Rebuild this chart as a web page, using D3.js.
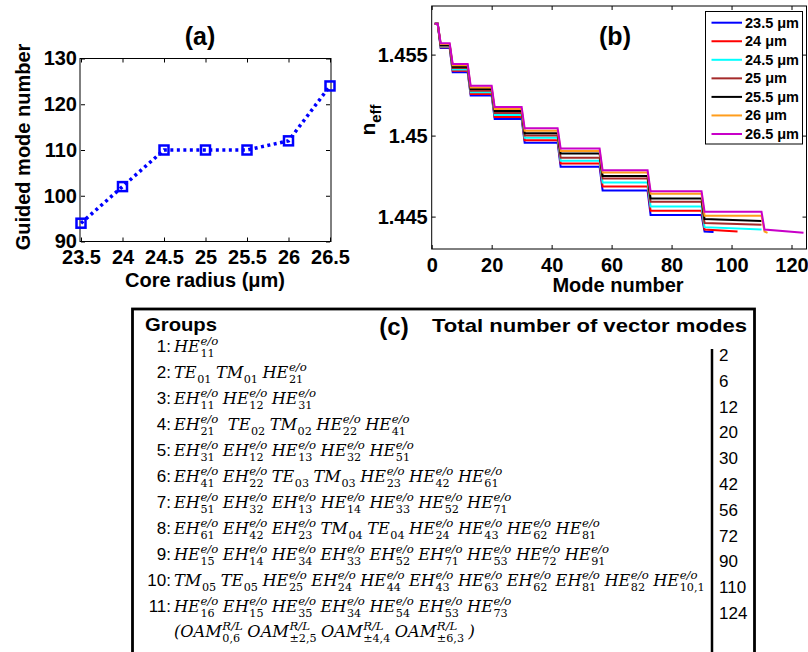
<!DOCTYPE html>
<html lang="en">
<head>
<meta charset="UTF-8" />
<title>Guided modes vs core radius</title>
<script src="https://d3js.org/d3.v7.min.js"></script>
<style>
  body { margin: 0; background: #fff; }
  svg { font-family: "Liberation Sans", Arial, sans-serif; }
  .bold { font-weight: bold; }
  .axis text { font-family: "Liberation Sans", Arial, sans-serif; font-weight: bold; font-size: 20px; fill: #000; }
  .axis line { stroke: #000; }
  .axis path { display: none; }
  .m { font-family: "DejaVu Serif", serif; font-style: italic; font-size: 16.2px; }
  .ms { font-family: "DejaVu Serif", serif; font-size: 11.2px; }
  .msi { font-family: "DejaVu Serif", serif; font-style: italic; font-size: 11.7px; }
</style>
</head>
<body>
<svg id="fig" width="808" height="652"></svg>
<script>
// ---- (a) guided mode number vs core radius
var coreRadius = [23.5, 24, 24.5, 25, 25.5, 26, 26.5];
var guidedModes = [94, 102, 110, 110, 110, 112, 124];

// ---- (b) n_eff of each mode group (one level per group), per core radius
var groupEnds = [2, 6, 12, 20, 30, 42, 56, 72, 90, 110, 124];
var radiusLabels = ["23.5", "24", "24.5", "25", "25.5", "26", "26.5"];
var lineColors = ["#0000ff", "#ff0000", "#00ffff", "#a52a2a", "#000000", "#ff9d1c", "#c800c8"];
var neff235 = [1.4569, 1.45540, 1.45391, 1.45247, 1.45103, 1.44956, 1.44807, 1.44661, 1.44510, 1.44408];
var neff24  = [1.4569, 1.45545, 1.45400, 1.45257, 1.45115, 1.44971, 1.44828, 1.44686, 1.44536, 1.44420];
var neff245 = [1.4569, 1.45550, 1.45408, 1.45267, 1.45127, 1.44986, 1.44844, 1.44710, 1.44563, 1.44435];
var neff25  = [1.4569, 1.45555, 1.45417, 1.45277, 1.45140, 1.45000, 1.44864, 1.44735, 1.44591, 1.44461];
var neff255 = [1.4569, 1.45560, 1.45425, 1.45287, 1.45152, 1.45015, 1.44889, 1.44751, 1.44612, 1.44485];
var neff26  = [1.4569, 1.45565, 1.45434, 1.45297, 1.45164, 1.45030, 1.44905, 1.44772, 1.44641, 1.44506, 1.44408];
var neff265 = [1.4569, 1.45570, 1.45442, 1.45307, 1.45176, 1.45045, 1.44921, 1.44786, 1.44657, 1.44530, 1.44420];
var neffLast = [1.44405, 1.44408, 1.44420, 1.44449, 1.44473, 1.44400, 1.44400]; // value at the last mode
var neffLevels = [neff235, neff24, neff245, neff25, neff255, neff26, neff265];

// ---- (c) table: "base|sub|sup" terms per group
var groupRows = [
  ["HE|11|e/o"],
  ["TE|01|", "TM|01|", "HE|21|e/o"],
  ["EH|11|e/o", "HE|12|e/o", "HE|31|e/o"],
  ["EH|21|e/o", " ||", "TE|02|", "TM|02|", "HE|22|e/o", "HE|41|e/o"],
  ["EH|31|e/o", "EH|12|e/o", "HE|13|e/o", "HE|32|e/o", "HE|51|e/o"],
  ["EH|41|e/o", "EH|22|e/o", "TE|03|", "TM|03|", "HE|23|e/o", "HE|42|e/o", "HE|61|e/o"],
  ["EH|51|e/o", "EH|32|e/o", "EH|13|e/o", "HE|14|e/o", "HE|33|e/o", "HE|52|e/o", "HE|71|e/o"],
  ["EH|61|e/o", "EH|42|e/o", "EH|23|e/o", "TM|04|", "TE|04|", "HE|24|e/o", "HE|43|e/o", "HE|62|e/o", "HE|81|e/o"],
  ["HE|15|e/o", "EH|14|e/o", "HE|34|e/o", "EH|33|e/o", "EH|52|e/o", "EH|71|e/o", "HE|53|e/o", "HE|72|e/o", "HE|91|e/o"],
  ["TM|05|", "TE|05|", "HE|25|e/o", "EH|24|e/o", "HE|44|e/o", "EH|43|e/o", "HE|63|e/o", "EH|62|e/o", "EH|81|e/o", "HE|82|e/o", "HE|10,1|e/o"],
  ["HE|16|e/o", "EH|15|e/o", "HE|35|e/o", "EH|34|e/o", "HE|54|e/o", "EH|53|e/o", "HE|73|e/o"]
];
var oamRow = ["(OAM|0,6|R/L", "OAM|\u00b12,5|R/L", "OAM|\u00b14,4|R/L", "OAM|\u00b16,3|R/L", ")||"];
var modeTotals = [2, 6, 12, 20, 30, 42, 56, 72, 90, 110, 124];

var svg = d3.select("#fig");

// frame with inward ticks on all four sides
function framedAxes(g, x, y, xTicks, yTicks, xFmt, yFmt, xPad, yPad) {
  var x0 = x.range()[0], x1 = x.range()[1], y0 = y.range()[0], y1 = y.range()[1];
  g.append("g").attr("class", "axis").attr("transform", "translate(0," + y0 + ")")
    .call(d3.axisBottom(x).tickValues(xTicks).tickSize(-4).tickPadding(xPad).tickFormat(xFmt));
  g.append("g").attr("class", "axis").attr("transform", "translate(0," + y1 + ")")
    .call(d3.axisTop(x).tickValues(xTicks).tickSize(-4).tickFormat(""));
  g.append("g").attr("class", "axis").attr("transform", "translate(" + x0 + ",0)")
    .call(d3.axisLeft(y).tickValues(yTicks).tickSize(-4).tickPadding(yPad).tickFormat(yFmt));
  g.append("g").attr("class", "axis").attr("transform", "translate(" + x1 + ",0)")
    .call(d3.axisRight(y).tickValues(yTicks).tickSize(-4).tickFormat(""));
  g.append("rect").attr("x", x0).attr("y", y1).attr("width", x1 - x0).attr("height", y0 - y1)
    .attr("fill", "none").attr("stroke", "#000").attr("stroke-width", 1);
}

// ================= (a)
var ga = svg.append("g");
var xa = d3.scaleLinear().domain([23.5, 26.5]).range([81, 330]);
var ya = d3.scaleLinear().domain([90, 130]).range([241.5, 58.5]);
framedAxes(ga, xa, ya, coreRadius, [90, 100, 110, 120, 130], function (d) { return d; }, d3.format("d"), 8, 4);
ga.select("rect").attr("x", 80).attr("width", 251);

ga.append("path")
  .datum(coreRadius.map(function (r, i) { return [r, guidedModes[i]]; }))
  .attr("fill", "none").attr("stroke", "#0000ff").attr("stroke-width", 3.5)
  .attr("stroke-dasharray", "3,3.5")
  .attr("d", d3.line().x(function (d) { return xa(d[0]); }).y(function (d) { return ya(d[1]); }));
ga.selectAll(".mk").data(coreRadius).enter().append("rect")
  .attr("x", function (r) { return xa(r) - 4.5; })
  .attr("y", function (r, i) { return ya(guidedModes[i]) - 4.5; })
  .attr("width", 9).attr("height", 9)
  .attr("fill", "none").attr("stroke", "#0000ff").attr("stroke-width", 2.5);

ga.append("text").attr("class", "bold").attr("x", 200).attr("y", 45).attr("text-anchor", "middle")
  .style("font-size", "25px").text("(a)");
ga.append("text").attr("class", "bold").attr("x", 205).attr("y", 287).attr("text-anchor", "middle")
  .style("font-size", "20px").text("Core radius (\u03bcm)");
ga.append("text").attr("class", "bold").attr("transform", "translate(30,147) rotate(-90)")
  .attr("text-anchor", "middle").style("font-size", "20px").text("Guided mode number");

// ================= (b)
var gb = svg.append("g");
var xb = d3.scaleLinear().domain([0, 125]).range([431.7, 806.5]);
var yb = d3.scaleLinear().domain([1.443, 1.458]).range([249, 6]);
framedAxes(gb, xb, yb, [0, 20, 40, 60, 80, 100, 120], [1.445, 1.45, 1.455], d3.format("d"), function (d) { return d3.format(".4~f")(d); }, 9, 4);

function stepPoints(levels, nModes, last) {
  var pts = [], start = 1;
  groupEnds.forEach(function (end, g) {
    if (start > nModes) return;
    var stop = Math.min(end, nModes);
    pts.push([start, levels[g]]);
    pts.push([stop, stop === nModes ? last : levels[g]]);
    start = end + 1;
  });
  return pts;
}
var lineB = d3.line().x(function (d) { return xb(d[0]); }).y(function (d) { return yb(d[1]); });
neffLevels.forEach(function (lv, i) {
  gb.append("path").datum(stepPoints(lv, guidedModes[i], neffLast[i]))
    .attr("fill", "none").attr("stroke", lineColors[i]).attr("stroke-width", 2).attr("d", lineB);
});

gb.append("text").attr("class", "bold").attr("x", 615).attr("y", 45).attr("text-anchor", "middle")
  .style("font-size", "25px").text("(b)");
gb.append("text").attr("class", "bold").attr("x", 618).attr("y", 292).attr("text-anchor", "middle")
  .style("font-size", "20px").text("Mode number");
var nl = gb.append("text").attr("class", "bold").attr("transform", "translate(375,120) rotate(-90)")
  .attr("text-anchor", "middle").style("font-size", "21px");
nl.append("tspan").text("n");
nl.append("tspan").attr("dy", 6).style("font-size", "15px").text("eff");

// legend
var lg = gb.append("g");
lg.append("rect").attr("x", 705.5).attr("y", 11.5).attr("width", 97).attr("height", 132.5)
  .attr("fill", "#fff").attr("stroke", "#000").attr("stroke-width", 1);
radiusLabels.forEach(function (r, i) {
  var cy = 22.7 + i * 18.55;
  lg.append("line").attr("x1", 711.5).attr("x2", 742).attr("y1", cy).attr("y2", cy)
    .attr("stroke", lineColors[i]).attr("stroke-width", 2);
  lg.append("text").attr("class", "bold").attr("x", 745).attr("y", cy + 5).style("font-size", "14.5px")
    .text(r + " \u03bcm");
});

// ================= (c) table
var gc = svg.append("g");
gc.append("rect").attr("x", 132.5).attr("y", 309).attr("width", 622).attr("height", 380)
  .attr("fill", "none").attr("stroke", "#000").attr("stroke-width", 2.8);
gc.append("line").attr("x1", 712).attr("x2", 712).attr("y1", 349).attr("y2", 660)
  .attr("stroke", "#000").attr("stroke-width", 2.5);

gc.append("text").attr("class", "bold").attr("x", 145).attr("y", 331).style("font-size", "19px")
  .attr("textLength", 72).attr("lengthAdjust", "spacingAndGlyphs").text("Groups");
gc.append("text").attr("class", "bold").attr("x", 394).attr("y", 335).attr("text-anchor", "middle")
  .style("font-size", "24px").text("(c)");
gc.append("text").attr("class", "bold").attr("x", 432).attr("y", 332).style("font-size", "19px")
  .attr("textLength", 315).attr("lengthAdjust", "spacingAndGlyphs").text("Total number of vector modes");

function drawTerm(g, x, y, spec) {
  var p = spec.split("|");
  var t = g.append("text").attr("class", "m").attr("x", x).attr("y", y).text(p[0]);
  var w = t.node().getComputedTextLength() + 0.5;
  var ws = 0;
  if (p[1]) {
    var s = g.append("text").attr("class", "ms").attr("x", x + w).attr("y", y + 5).text(p[1]);
    ws = s.node().getComputedTextLength();
  }
  if (p[2]) {
    var u = g.append("text").attr("class", "msi").attr("x", x + w).attr("y", y - 7.5).text(p[2]);
    ws = Math.max(ws, u.node().getComputedTextLength());
  }
  return w + ws;
}
function drawRow(terms, x, y) {
  terms.forEach(function (spec) { x += drawTerm(gc, x, y, spec) + 4.5; });
}

groupRows.forEach(function (terms, i) {
  var y = 352 + i * 26;
  gc.append("text").attr("x", 171).attr("y", y).attr("text-anchor", "end").style("font-size", "17px")
    .text((i + 1) + ":");
  drawRow(terms, 174, y);
});
drawRow(oamRow, 174, 637);

modeTotals.forEach(function (v, i) {
  gc.append("text").attr("x", 719).attr("y", 361 + i * 25.8).style("font-size", "17px").text(v);
});
</script>
</body>
</html>
